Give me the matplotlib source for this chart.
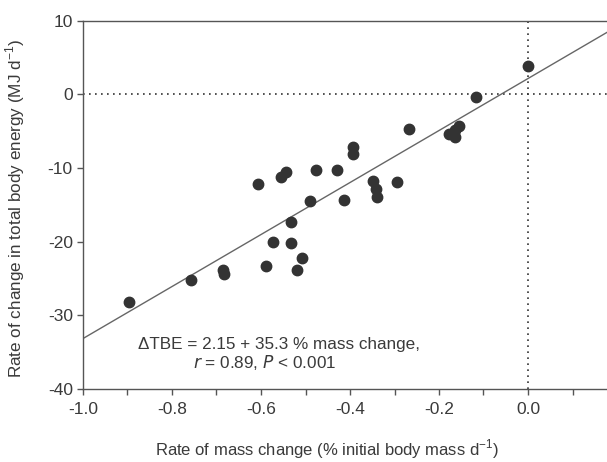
import matplotlib
matplotlib.use("Agg")
import matplotlib.pyplot as plt
import numpy as np
from matplotlib.ticker import MultipleLocator

plt.rcParams['font.family'] = ['Liberation Sans', 'DejaVu Sans']
plt.rcParams['axes.unicode_minus'] = False

# Data
mass_change = [0.0, -0.1175, -0.267, -0.155, -0.165, -0.178, -0.165,
               -0.393, -0.393, -0.607, -0.544, -0.555, -0.476, -0.429,
               -0.349, -0.294, -0.342, -0.340, -0.490, -0.413,
               -0.533, -0.572, -0.532, -0.508, -0.589, -0.519,
               -0.686, -0.684, -0.757, -0.897]
tbe_change = [3.9, -0.3, -4.74, -4.3, -4.8, -5.4, -5.8,
              -7.1, -8.1, -12.16, -10.6, -11.25, -10.26, -10.26,
              -11.8, -11.85, -12.9, -14.0, -14.5, -14.3,
              -17.27, -20.1, -20.2, -22.16, -23.3, -23.8,
              -23.9, -24.4, -25.2, -28.2]
intercept = 2.15
slope = 35.3

x_ticks = [-1.0, -0.8, -0.6, -0.4, -0.2, 0.0]
y_ticks = [-40, -30, -20, -10, 0, 10]

fig = plt.figure(figsize=(6.07, 4.62), dpi=100)
ax = fig.add_axes([83/607, 1-389/462, (617-83)/607, (389-20.7)/462])

txt = '#3a3a3a'
axc = '#555555'

ax.set_xlim(-1.0, 0.2)
ax.set_ylim(-40, 10)

# reference lines
ax.axhline(0, color='#333333', lw=1.2, ls=(0, (1, 2.6)), zorder=1)
ax.axvline(0, color='#333333', lw=1.2, ls=(0, (1, 2.6)), zorder=1)

# regression line
xl = np.array([-1.0, 0.2])
ax.plot(xl, intercept + slope * xl, color='#666666', lw=1.0, zorder=2)

ax.plot(mass_change, tbe_change, 'o', color='#333333', ms=7.5, mec='#333333', zorder=3)

ax.set_xticks(x_ticks)
ax.set_xticklabels([f'{v:.1f}' for v in x_ticks])
ax.xaxis.set_minor_locator(MultipleLocator(0.1))
ax.set_yticks(y_ticks)
ax.set_yticklabels([str(v) for v in y_ticks])

for s in ['right']:
    ax.spines[s].set_visible(False)
for s in ['left', 'bottom', 'top']:
    ax.spines[s].set_color(axc)
    ax.spines[s].set_linewidth(1.0)

ax.tick_params(axis='both', which='both', direction='out', length=4.3, width=1.0,
               color=axc, labelcolor=txt, labelsize=12.5, pad=3)
ax.tick_params(axis='x', which='major', pad=5)

ax.set_xlabel('Rate of mass change (% initial body mass d$^{\\mathregular{-1}}$)',
              fontsize=12, color=txt)
ax.set_ylabel('Rate of change in total body energy (MJ d$^{\\mathregular{-1}}$)',
              fontsize=12.3, color=txt)
ax.xaxis.set_label_coords((327 - 83) / 534, (389 - 437) / 368.3)
ax.yaxis.set_label_coords((27 - 83) / 534, (389 - 209) / 368.3)

ax.text(-0.56, -34.0, '\u0394TBE = 2.15 + 35.3 % mass change,', ha='center', va='center',
        fontsize=12.3, color=txt)
ax.text(-0.591, -36.45, '$\\it{r}$ = 0.89, $\\it{P}$ < 0.001', ha='center', va='center',
        fontsize=12.3, color=txt)

fig.savefig('out.png', dpi=100)
